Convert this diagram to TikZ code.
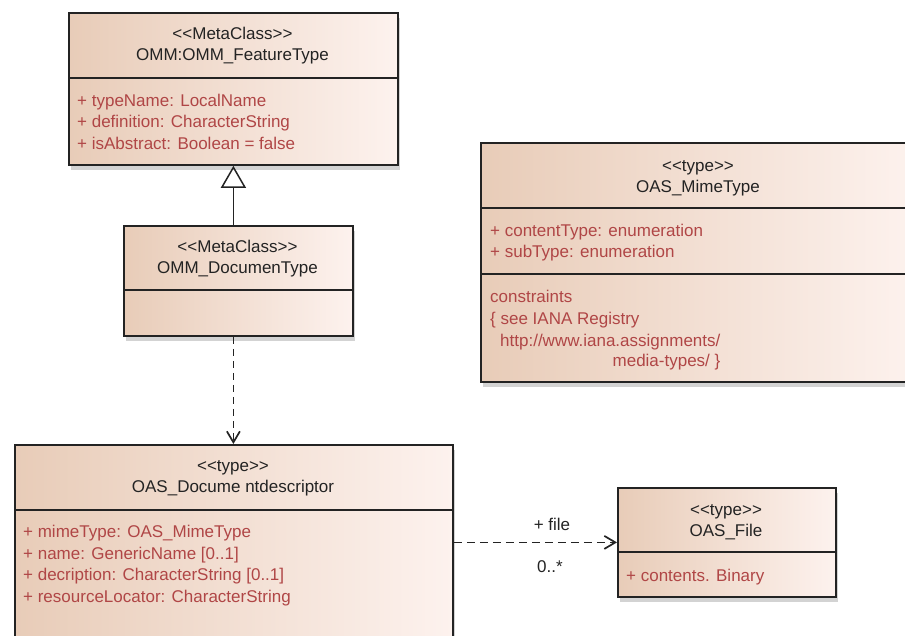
\documentclass[tikz,border=0pt]{standalone}
\usepackage{fontspec}
\setmainfont{Liberation Sans}
\usetikzlibrary{arrows.meta, positioning, shadows}
\definecolor{clsleft}{RGB}{232,204,184}
\definecolor{clsright}{RGB}{253,242,238}
\definecolor{attrred}{RGB}{176,70,70}
\definecolor{lineg}{RGB}{35,35,35}

\begin{document}
\begin{tikzpicture}[x=1pt, y=-1pt,
  cls/.style={rectangle, draw=lineg, line width=1.8pt, left color=clsleft,
              right color=clsright, anchor=north west, inner sep=0pt,
              drop shadow={shadow xshift=2pt, shadow yshift=-5pt, opacity=0.35}},
  ttl/.style={font=\fontsize{17}{21}\selectfont, text=lineg, align=center, inner sep=0pt},
  attr/.style={font=\fontsize{17}{21.5}\selectfont, text=attrred, align=left,
               inner sep=0pt, anchor=west},
  lbl/.style={font=\fontsize{17}{21}\selectfont, text=lineg, inner sep=0pt},
  sep/.style={draw=lineg, line width=1.8pt},
  gen/.style={-{Triangle[open, length=22pt, width=25pt]}, lineg, line width=1.5pt},
  dep/.style={-{Straight Barb[length=11pt, width=13pt]}, lineg, line width=1.7pt,
              dash pattern=on 7pt off 5pt}
]
\useasboundingbox (0,0) rectangle (905,635);
\clip (0,0) rectangle (905,635);

% OMM_FeatureType
\node[cls, minimum width=329pt, minimum height=152pt] (feat) at (68,12) {};
\draw[sep] (68,78) -- (397,78);
\node[ttl] (featT) at (232.5,45.5) {<{}<MetaClass>{}>\\OMM:OMM\_FeatureType};
\node[attr] (featA) at (77,121.5) {+ typeName: LocalName\\+ definition: CharacterString\\+ isAbstract: Boolean = false};

% OMM_DocumenType
\node[cls, minimum width=229pt, minimum height=110pt] (docmeta) at (123,225) {};
\draw[sep] (123,290) -- (352,290);
\node[ttl] (docmetaT) at (237.5,258.5) {<{}<MetaClass>{}>\\OMM\_DocumenType};

% OAS_MimeType
\node[cls, minimum width=436pt, minimum height=239pt] (mime) at (480,142) {};
\draw[sep] (480,208) -- (916,208);
\draw[sep] (480,274) -- (916,274);
\node[ttl] (mimeT) at (698,178) {<{}<type>{}>\\OAS\_MimeType};
\node[attr] (mimeA) at (490,242.5) {+ contentType: enumeration\\+ subType: enumeration};
\node[attr] (mimeC) at (490,309) {constraints\\\{ see IANA Registry};
\node[attr] (mimeUrl) at (500,342) {http://www.iana.assignments/};
\node[attr, anchor=east] (mimeUrlB) at ([yshift=-20pt]mimeUrl.east) {media-types/ \}};

% OAS_Documentdescriptor
\node[cls, minimum width=438pt, minimum height=200pt] (descr) at (14,444) {};
\draw[sep] (14,510) -- (452,510);
\node[ttl] (descrT) at (233,478.5) {<{}<type>{}>\\OAS\_Docume ntdescriptor};
\node[attr] (descrA) at (23,565.5) {+ mimeType: OAS\_MimeType\\+ name: GenericName [0..1]\\+ decription: CharacterString [0..1]\\+ resourceLocator: CharacterString};

% OAS_File
\node[cls, minimum width=218pt, minimum height=109pt] (file) at (617,487) {};
\draw[sep] (617,552) -- (835,552);
\node[ttl] (fileT) at (726,522) {<{}<type>{}>\\OAS\_File};
\node[attr] (fileA) at (626,577) {+ contents. Binary};

% connectors
\draw[gen] (docmeta.north -| feat.south) -- (feat.south);
\draw[dep] (docmeta.south -| feat.south) -- (descr.north -| feat.south);
\draw[dep, dash pattern=on 8pt off 5pt] (file.west -| descr.east) -- (file.west);
\node[lbl] (fileRole) at (552,524) {+ file};
\node[lbl] (fileMult) at (550,567) {0..*};
\end{tikzpicture}
\end{document}
